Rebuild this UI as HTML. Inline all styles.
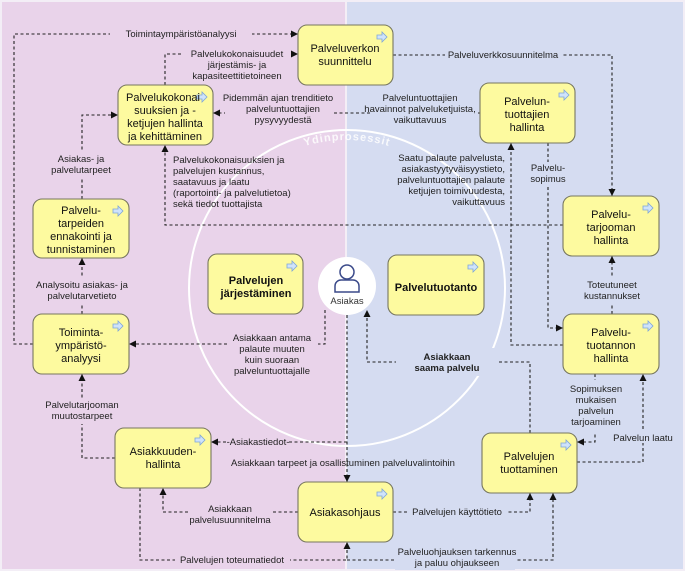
<!DOCTYPE html>
<html><head><meta charset="utf-8"><style>
body{margin:0;width:685px;height:571px;overflow:hidden;font-family:"Liberation Sans",sans-serif}
</style></head><body>
<svg width="685" height="571" viewBox="0 0 685 571" xmlns="http://www.w3.org/2000/svg" font-family="Liberation Sans, sans-serif" font-size="9.5" fill="#222">
<defs>
<marker id="a" markerWidth="8" markerHeight="8" refX="7" refY="4" orient="auto" markerUnits="userSpaceOnUse"><path d="M0,0.5 L7,4 L0,7.5z" fill="#111"/></marker>
<path id="arc" d="M197,290 A150,150 0 0 1 497,290"/>
<g id="ic"><path d="M0,2 h5 v-3 l5,5 l-5,5 v-3 h-5z" fill="#cfe3fb" stroke="#7fa6d6" stroke-width="0.8"/></g>
</defs>
<rect x="0" y="0" width="346" height="571" fill="#e9d3ea"/>
<rect x="346" y="0" width="339" height="571" fill="#d5dcf1"/>
<rect x="0.5" y="0.5" width="684" height="570" fill="none" stroke="#f3eef6" stroke-width="3"/>
<line x1="346" y1="0" x2="346" y2="571" stroke="#f4eef6" stroke-width="2"/>
<circle cx="347" cy="288" r="158" fill="none" stroke="#fff" stroke-width="2"/>
<text font-size="11" fill="#fff" letter-spacing="1" font-weight="bold" opacity="0.85"><textPath href="#arc" startOffset="50%" text-anchor="middle">Ydinprosessit</textPath></text>
<circle cx="347" cy="286" r="29" fill="#fff"/>
<circle cx="347" cy="272" r="7" fill="none" stroke="#3b4a8a" stroke-width="1.5"/>
<path d="M335,292 v-6 a6,6 0 0 1 6,-6 h12 a6,6 0 0 1 6,6 v6z" fill="none" stroke="#3b4a8a" stroke-width="1.5"/>
<text x="347" y="304" text-anchor="middle" font-size="9.5" fill="#333">Asiakas</text>

<g fill="none" stroke="#222" stroke-width="1.1" stroke-dasharray="3,2.5">
<path d="M33,344 H14 V34 H298" marker-end="url(#a)"/>
<path d="M165,85 V54 H298" marker-end="url(#a)"/>
<path d="M393,55 H612 V196" marker-end="url(#a)"/>
<path d="M480,113 H213" marker-end="url(#a)"/>
<path d="M563,225 H165 V145" marker-end="url(#a)"/>
<path d="M82,199 V115 H118" marker-end="url(#a)"/>
<path d="M82,314 V258" marker-end="url(#a)"/>
<path d="M325,310 V344 H129" marker-end="url(#a)"/>
<path d="M115,458 H82 V374" marker-end="url(#a)"/>
<path d="M347,315 V482" marker-end="url(#a)"/>
<path d="M347,442 H211" marker-end="url(#a)"/>
<path d="M298,512 H163 V488" marker-end="url(#a)"/>
<path d="M140,488 V560 H347 V542" marker-end="url(#a)"/>
<path d="M347,560 H553 V493" marker-end="url(#a)"/>
<path d="M393,512 H530 V493" marker-end="url(#a)"/>
<path d="M530,433 V362 H367 V310" marker-end="url(#a)"/>
<path d="M577,462 H643 V374" marker-end="url(#a)"/>
<path d="M595,374 V442 H577" marker-end="url(#a)"/>
<path d="M612,314 V256" marker-end="url(#a)"/>
<path d="M548,143 V328 H563" marker-end="url(#a)"/>
<path d="M563,345 H511 V143" marker-end="url(#a)"/>
</g>

<g stroke="none">
<rect x="110" y="27" width="142" height="13" fill="#e9d3ea"/>
<rect x="183" y="47" width="108" height="33" fill="#e9d3ea"/>
<rect x="445" y="48" width="116" height="13" fill="#d5dcf1"/>
<rect x="225" y="92" width="108" height="30" fill="#e9d3ea"/>
<rect x="370" y="92" width="108" height="30" fill="#d5dcf1"/>
<rect x="50" y="152" width="62" height="26" fill="#e9d3ea"/>
<rect x="30" y="278" width="110" height="26" fill="#e9d3ea"/>
<rect x="228" y="333" width="90" height="44" fill="#e9d3ea"/>
<rect x="42" y="398" width="82" height="26" fill="#e9d3ea"/>
<rect x="228" y="436" width="60" height="12" fill="#e9d3ea"/>
<rect x="190" y="502" width="82" height="26" fill="#e9d3ea"/>
<rect x="175" y="554" width="115" height="12" fill="#e9d3ea"/>
<rect x="395" y="544" width="120" height="26" fill="#d5dcf1"/>
<rect x="407" y="506" width="100" height="12" fill="#d5dcf1"/>
<rect x="396" y="348" width="102" height="28" fill="#d5dcf1"/>
<rect x="567" y="380" width="58" height="52" fill="#d5dcf1"/>
<rect x="584" y="278" width="56" height="26" fill="#d5dcf1"/>
<rect x="527" y="162" width="42" height="24" fill="#d5dcf1"/>
<rect x="610" y="431" width="66" height="12" fill="#d5dcf1"/>
</g>

<g text-anchor="middle">
<text x="181" y="37">Toimintaympäristöanalyysi</text>
<text x="237" y="57">Palvelukokonaisuudet</text>
<text x="237" y="68">järjestämis- ja</text>
<text x="237" y="79">kapasiteettitietoineen</text>
<text x="503" y="58">Palveluverkkosuunnitelma</text>
<text x="278" y="101">Pidemmän ajan trenditieto</text>
<text x="283" y="112">palveluntuottajien</text>
<text x="283" y="123">pysyvyydestä</text>
<text x="420" y="101">Palveluntuottajien</text>
<text x="420" y="112">havainnot palveluketjuista,</text>
<text x="420" y="123">vaikuttavuus</text>
<text x="81" y="162">Asiakas- ja</text>
<text x="81" y="173">palvelutarpeet</text>
<text x="82" y="288">Analysoitu asiakas- ja</text>
<text x="82" y="299">palvelutarvetieto</text>
<text x="272" y="341">Asiakkaan antama</text>
<text x="272" y="352">palaute muuten</text>
<text x="272" y="363">kuin suoraan</text>
<text x="272" y="374">palveluntuottajalle</text>
<text x="82" y="408">Palvelutarjooman</text>
<text x="82" y="419">muutostarpeet</text>
<text x="258" y="445">-Asiakastiedot-</text>
<text x="343" y="466">Asiakkaan tarpeet ja osallistuminen palveluvalintoihin</text>
<text x="230" y="512">Asiakkaan</text>
<text x="230" y="523">palvelusuunnitelma</text>
<text x="232" y="563">Palvelujen toteumatiedot</text>
<text x="457" y="555">Palveluohjauksen tarkennus</text>
<text x="457" y="566">ja paluu ohjaukseen</text>
<text x="457" y="515">Palvelujen käyttötieto</text>
<text x="447" y="360" font-weight="bold">Asiakkaan</text>
<text x="447" y="371" font-weight="bold">saama palvelu</text>
<text x="596" y="392">Sopimuksen</text>
<text x="596" y="403">mukaisen</text>
<text x="596" y="414">palvelun</text>
<text x="596" y="425">tarjoaminen</text>
<text x="643" y="441">Palvelun laatu</text>
<text x="612" y="288">Toteutuneet</text>
<text x="612" y="299">kustannukset</text>
<text x="548" y="171">Palvelu-</text>
<text x="548" y="182">sopimus</text>
</g>
<g text-anchor="end">
<text x="505" y="161">Saatu palaute palvelusta,</text>
<text x="505" y="172">asiakastyytyväisyystieto,</text>
<text x="505" y="183">palveluntuottajien palaute</text>
<text x="505" y="194">ketjujen toimivuudesta,</text>
<text x="505" y="205">vaikuttavuus</text>
</g>
<g>
<text x="173" y="163">Palvelukokonaisuuksien ja</text>
<text x="173" y="174">palvelujen kustannus,</text>
<text x="173" y="185">saatavuus ja laatu</text>
<text x="173" y="196">(raportointi- ja palvelutietoa)</text>
<text x="173" y="207">sekä tiedot tuottajista</text>
</g>

<g stroke="#77775f" stroke-width="1.1" fill="#fdfa9f">
<rect x="298" y="25" width="95" height="60" rx="9"/>
<rect x="118" y="85" width="95" height="60" rx="9"/>
<rect x="480" y="83" width="95" height="60" rx="9"/>
<rect x="563" y="196" width="96" height="60" rx="9"/>
<rect x="33" y="199" width="96" height="59" rx="9"/>
<rect x="208" y="254" width="95" height="60" rx="9"/>
<rect x="388" y="255" width="96" height="60" rx="9"/>
<rect x="33" y="314" width="96" height="60" rx="9"/>
<rect x="563" y="314" width="96" height="60" rx="9"/>
<rect x="115" y="428" width="96" height="60" rx="9"/>
<rect x="482" y="433" width="95" height="60" rx="9"/>
<rect x="298" y="482" width="95" height="60" rx="9"/>
</g>
<use href="#ic" x="377" y="33"/><use href="#ic" x="197" y="93"/><use href="#ic" x="559" y="91"/>
<use href="#ic" x="643" y="204"/><use href="#ic" x="113" y="207"/><use href="#ic" x="287" y="262"/>
<use href="#ic" x="468" y="263"/><use href="#ic" x="113" y="322"/><use href="#ic" x="643" y="322"/>
<use href="#ic" x="195" y="436"/><use href="#ic" x="561" y="441"/><use href="#ic" x="377" y="490"/>

<g text-anchor="middle" font-size="11" fill="#111">
<text x="345" y="52">Palveluverkon</text><text x="345" y="65">suunnittelu</text>
<text x="163" y="101">Palvelukokonai</text><text x="165" y="114">suuksien ja -</text><text x="165" y="127">ketjujen hallinta</text><text x="165" y="140">ja kehittäminen</text>
<text x="527" y="105">Palvelun-</text><text x="527" y="118">tuottajien</text><text x="527" y="131">hallinta</text>
<text x="611" y="218">Palvelu-</text><text x="611" y="231">tarjooman</text><text x="611" y="244">hallinta</text>
<text x="81" y="214">Palvelu-</text><text x="81" y="227">tarpeiden</text><text x="81" y="240">ennakointi ja</text><text x="81" y="253">tunnistaminen</text>
<text x="256" y="284" font-weight="bold">Palvelujen</text><text x="256" y="297" font-weight="bold">järjestäminen</text>
<text x="436" y="291" font-weight="bold">Palvelutuotanto</text>
<text x="81" y="336">Toiminta-</text><text x="81" y="349">ympäristö-</text><text x="81" y="362">analyysi</text>
<text x="611" y="336">Palvelu-</text><text x="611" y="349">tuotannon</text><text x="611" y="362">hallinta</text>
<text x="163" y="455">Asiakkuuden-</text><text x="163" y="468">hallinta</text>
<text x="529" y="460">Palvelujen</text><text x="529" y="473">tuottaminen</text>
<text x="345" y="516">Asiakasohjaus</text>
</g>
</svg>
</body></html>
